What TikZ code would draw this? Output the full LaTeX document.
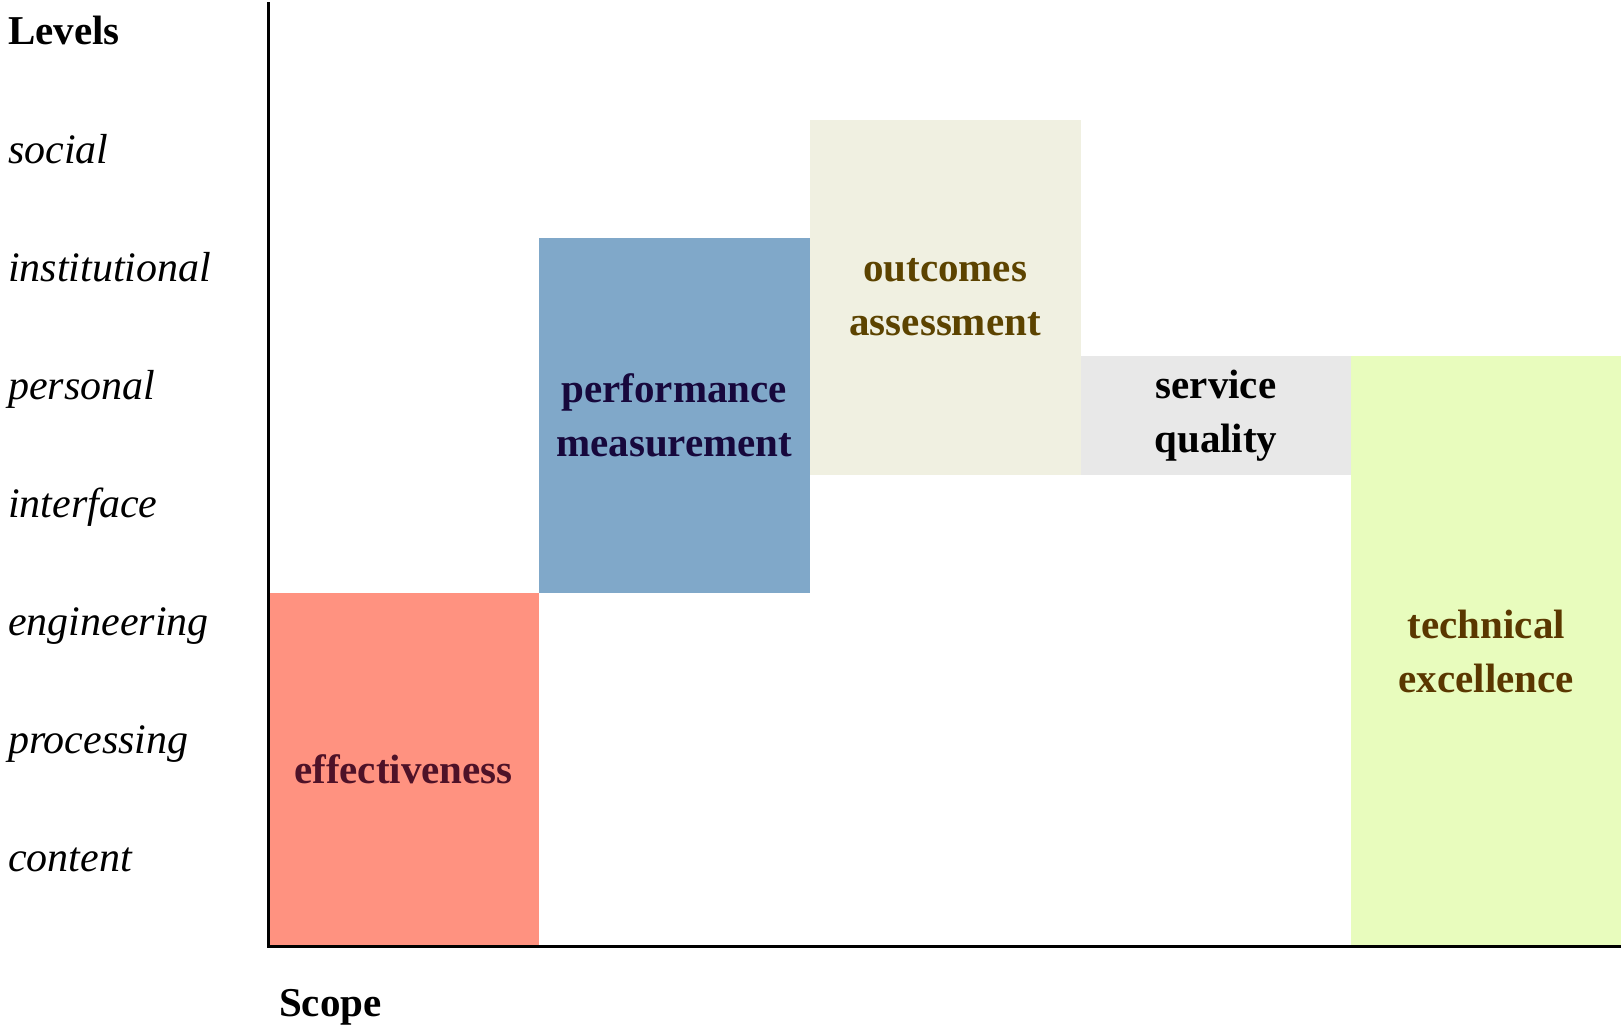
\documentclass[tikz,border=0pt]{standalone}
\usepackage{fontspec}
\setmainfont{Liberation Serif}
\definecolor{effFill}{HTML}{FF9280}
\definecolor{effText}{HTML}{4E1228}
\definecolor{perfFill}{HTML}{80A8C9}
\definecolor{perfText}{HTML}{17083C}
\definecolor{outFill}{HTML}{F0F0E1}
\definecolor{outText}{HTML}{5C4300}
\definecolor{servFill}{HTML}{E8E8E8}
\definecolor{techFill}{HTML}{E8FCBD}
\definecolor{techText}{HTML}{5A3700}
\begin{document}
\begin{tikzpicture}[x=1pt, y=-1pt]
    \tikzset{box/.style={rectangle, inner sep=0pt, align=center, anchor=north west,
            font=\fontsize{41}{54}\selectfont\bfseries},
        level/.style={anchor=base west, inner sep=0pt, font=\fontsize{42}{50}\selectfont\itshape},
        axlabel/.style={anchor=base west, inner sep=0pt, font=\fontsize{41}{50}\selectfont\bfseries}}
    \useasboundingbox (0,0) rectangle (1621,1029);
    \coordinate (T) at (268,2);
    \coordinate (O) at (268,946);
    \coordinate (R) at (1621,946);
    \node[box, fill=effFill, text=effText, minimum width=270.6pt, minimum height=353.6pt] (eff) at (268,592.4) {effectiveness};
    \node[box, fill=perfFill, text=perfText, minimum width=270.9pt, minimum height=354.6pt] (perf) at (538.6,237.8) {performance\\measurement};
    \node[box, fill=outFill, text=outText, minimum width=270.8pt, minimum height=354.6pt] (outc) at (809.5,119.9) {outcomes\\assessment};
    \node[box, fill=servFill, text=black, minimum width=270.9pt, minimum height=118.9pt] (serv) at (1080.3,355.6) {service\\quality};
    \node[box, fill=techFill, text=techText, minimum width=269.8pt, minimum height=590.4pt] (tech) at (1351.2,355.6) {technical\\excellence};
    \draw[line width=3pt] (T) -- (O) -- (R);
    \node[axlabel] (levels) at (8,44.5) {Levels};
    \node[level] (social) at (8,163) {social};
    \node[level] (inst) at (8,281) {institutional};
    \node[level] (pers) at (8,399) {personal};
    \node[level] (intf) at (8,517) {interface};
    \node[level] (eng) at (8,635) {engineering};
    \node[level] (proc) at (8,753) {processing};
    \node[level] (cont) at (8,871) {content};
    \node[axlabel] (scope) at (279,1016) {Scope};
\end{tikzpicture}
\end{document}
